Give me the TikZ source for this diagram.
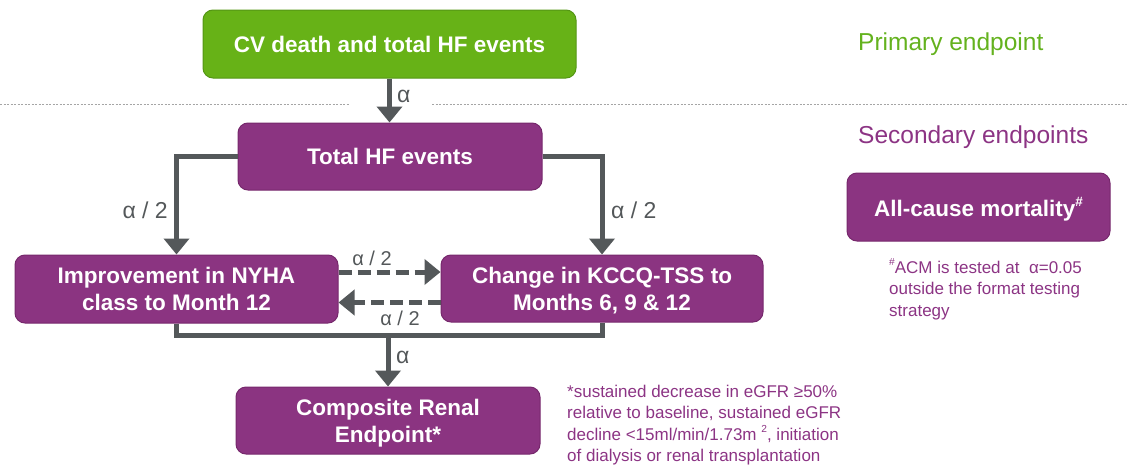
\documentclass[tikz,border=0pt]{standalone}
\usepackage{fontspec}
\setmainfont{Liberation Sans}
\usetikzlibrary{arrows.meta,positioning}
\definecolor{cvgreen}{RGB}{103,178,23}
\definecolor{cvgreenedge}{RGB}{84,150,20}
\definecolor{hfpurple}{RGB}{139,52,129}
\definecolor{hfpurpleedge}{RGB}{118,40,108}
\definecolor{txtgreen}{RGB}{100,178,30}
\definecolor{txtpurple}{RGB}{140,52,132}
\definecolor{arrgray}{RGB}{84,88,90}
\definecolor{sepgray}{RGB}{165,165,165}
\newcommand{\mysup}[1]{\raisebox{0.45em}{\fontsize{0.6em}{1em}\selectfont #1}}
\begin{document}
\begin{tikzpicture}[x=1pt,y=-1pt,
  boxbase/.style={rounded corners=10pt, line width=1pt, inner sep=0pt,
    text=white, align=center, text depth=0pt,
    font=\fontsize{22.5}{27}\selectfont\bfseries},
  greenbox/.style={boxbase, fill=cvgreen, draw=cvgreenedge},
  purplebox/.style={boxbase, fill=hfpurple, draw=hfpurpleedge},
  flow/.style={draw=arrgray, line width=5pt, line join=miter},
  flowarrow/.style={flow, -{Triangle[width=25pt,length=16pt]}},
  dasharrow/.style={flowarrow, dash pattern=on 13pt off 6pt},
  alabel/.style={text=arrgray, inner sep=0pt, font=\fontsize{23}{27}\selectfont},
  smalllabel/.style={text=arrgray, inner sep=0pt, font=\fontsize{20}{24}\selectfont},
  header/.style={inner sep=0pt, anchor=base west, font=\fontsize{24.5}{29}\selectfont},
  note/.style={inner sep=0pt, anchor=north west, align=left, text=txtpurple,
    font=\fontsize{17}{21.5}\selectfont},
  sepline/.style={draw=sepgray, line width=1pt, dash pattern=on 2pt off 1.5pt}
]
\useasboundingbox (0,0) rectangle (1129,471);

% separator
\coordinate (s1) at (0,104);
\coordinate (s2) at (349,104);
\coordinate (s3) at (432,104);
\coordinate (s4) at (1129,104);
\draw[sepline] (s1) -- (s2);
\draw[sepline] (s3) -- (s4);

% boxes
\node[greenbox, minimum width=373pt, minimum height=68pt] (cv) at (389.5,44) {CV death and total HF events};
\node[purplebox, minimum width=304pt, minimum height=67pt] (thf) at (390,156.5) {Total HF events};
\node[purplebox, minimum width=323pt, minimum height=68pt] (nyha) at (176.5,289) {Improvement in NYHA\\class to Month 12};
\node[purplebox, minimum width=322pt, minimum height=67pt] (kccq) at (602,288.5) {Change in KCCQ-TSS to\\Months 6, 9 \& 12};
\node[purplebox, minimum width=304pt, minimum height=67pt] (crp) at (388,420.5) {Composite Renal\\Endpoint*};
\node[purplebox, minimum width=263pt, minimum height=68pt] (acm) at (978.5,207) {All-cause mortality\mysup{\#}};

% connectors
\draw[flowarrow] (cv.south) -- (cv.south |- thf.north);
\draw[flowarrow] (thf.west) -| (nyha.north);
\draw[flowarrow] (thf.east) -| (kccq.north);
\draw[dasharrow] ([yshift=17pt]nyha.east) -- ([yshift=17pt]nyha.east -| kccq.west);
\draw[dasharrow] ([yshift=-14pt]kccq.west) -- ([yshift=-14pt]kccq.west -| nyha.east);
\coordinate (j) at (388,335);
\draw[flow] (nyha.south) |- (j) -| (kccq.south);
\draw[flowarrow] (j) -- (crp.north);

% connector labels
\node[alabel, anchor=west] (l1) at (397,96) {α};
\node[alabel, anchor=east] (l2) at (168,210) {α / 2};
\node[alabel, anchor=west] (l3) at (611,210) {α / 2};
\node[smalllabel] (l4) at (372,258) {α / 2};
\node[smalllabel] (l5) at (400,318) {α / 2};
\node[alabel, anchor=west] (l6) at (396,357) {α};

% headers
\node[header, text=txtgreen] (prim) at (858,50) {Primary endpoint};
\node[header, text=txtpurple] (sec) at (858,143) {Secondary endpoints};

% notes
\node[note] (acmnote) at (889,258.6) {\mysup{\#}ACM is tested at \ α=0.05\\outside the format testing\\strategy};
\node[note] (renalnote) at (567,384.6) {*sustained decrease in eGFR ≥50\%\\relative to baseline, sustained eGFR\\decline <15ml/min/1.73m \mysup{2}, initiation\\of dialysis or renal transplantation};
\end{tikzpicture}
\end{document}
